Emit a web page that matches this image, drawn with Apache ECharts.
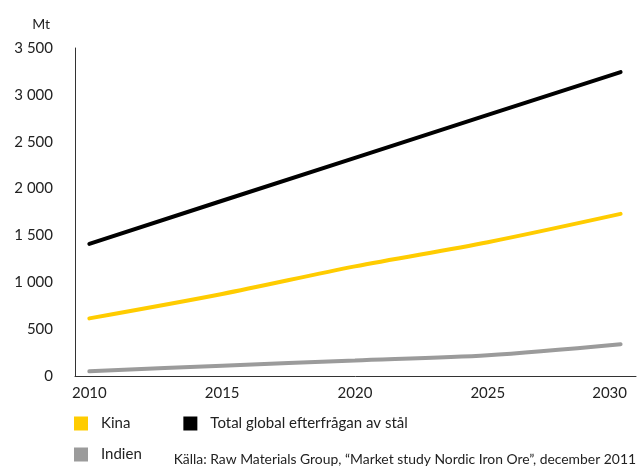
<!DOCTYPE html>
<html>
<head>
<meta charset="utf-8">
<script src="https://cdn.jsdelivr.net/npm/echarts@6/dist/echarts.min.js"></script>
<style>
html,body{margin:0;padding:0;background:#fff;}
#c{width:638px;height:467px;}
</style>
</head>
<body>
<div id="c"></div>
<script>
var years = [2010, 2015, 2020, 2025, 2030];
var xTicks = [2010, 2015, 2020, 2025, 2030];
var yTicks = [0, 500, 1000, 1500, 2000, 2500, 3000, 3500];
var kina = [615, 875, 1170, 1428, 1730];
var indien = [50, 110, 165, 222, 340];
var total = [1410, 1870, 2328, 2787, 3243];
var names = ['Kina', 'Total global efterfrågan av stål', 'Indien'];
var colors = ['#FFCC00', '#000000', '#9B9B9B'];
var source = 'Källa: Raw Materials Group, \u201cMarket study Nordic Iron Ore\u201d, december 2011';
var FONT = 'Lato';

function pairs(vals){ return years.map(function(y,i){ return [y, vals[i]]; }); }
function fmt(v){ return String(v).replace(/\B(?=(\d{3})+(?!\d))/g, ' '); }

var chart = echarts.init(document.getElementById('c'), null, {renderer:'canvas'});
var seriesData = [kina, total, indien];
chart.setOption({
  animation: false,
  textStyle: {fontFamily: FONT},
  grid: {left: 75, right: 2, top: 48, bottom: 91, containLabel: false},
  title: {
    text: source, right: 2, bottom: 0, padding: 0,
    textStyle: {fontFamily: FONT, fontSize: 13.9, fontWeight: 'normal', color: '#222'}
  },
  legend: [{
    data: [names[0], names[1]], left: 74, top: 416, orient: 'horizontal', padding: 0,
    icon: 'rect', itemWidth: 14, itemHeight: 14, itemGap: 53,
    textStyle: {fontFamily: FONT, fontSize: 15, color: '#222', padding: [0,0,0,8]}
  }, {
    data: [names[2]], left: 74, top: 447, padding: 0,
    icon: 'rect', itemWidth: 14, itemHeight: 14,
    textStyle: {fontFamily: FONT, fontSize: 15, color: '#222', padding: [0,0,0,8]}
  }],
  xAxis: {
    type: 'value', min: 2009.46, max: 2030.58,
    axisLine: {show: true, lineStyle: {color: '#333', width: 1}},
    axisTick: {show: false},
    splitLine: {show: false},
    axisLabel: {
      customValues: xTicks, margin: 10, fontSize: 15, color: '#222', fontFamily: FONT,
      formatter: function(v){ return v === 2030 ? '{l|' + v + '}' : String(v); },
      rich: {l: {fontSize: 15, color: '#222', fontFamily: FONT, padding: [0, 22, 0, 0]}}
    }
  },
  yAxis: {
    type: 'value', min: 0, max: 3500, interval: 500,
    name: 'Mt', nameLocation: 'end', nameGap: 17,
    nameTextStyle: {fontFamily: FONT, fontSize: 14, color: '#222', align: 'right', padding: [0, 25, 0, 0]},
    axisLine: {show: true, lineStyle: {color: '#333', width: 1}},
    axisTick: {show: false},
    splitLine: {show: false},
    axisLabel: {margin: 22, fontSize: 15, color: '#222', fontFamily: FONT, formatter: fmt}
  },
  series: names.map(function(n, i){
    return {
      name: n, type: 'line', data: pairs(seriesData[i]),
      smooth: i === 1 ? false : 0.3, showSymbol: false, symbol: 'none',
      itemStyle: {color: colors[i]},
      lineStyle: {color: colors[i], width: 4, cap: 'round'}
    };
  })
});
</script>
</body>
</html>
